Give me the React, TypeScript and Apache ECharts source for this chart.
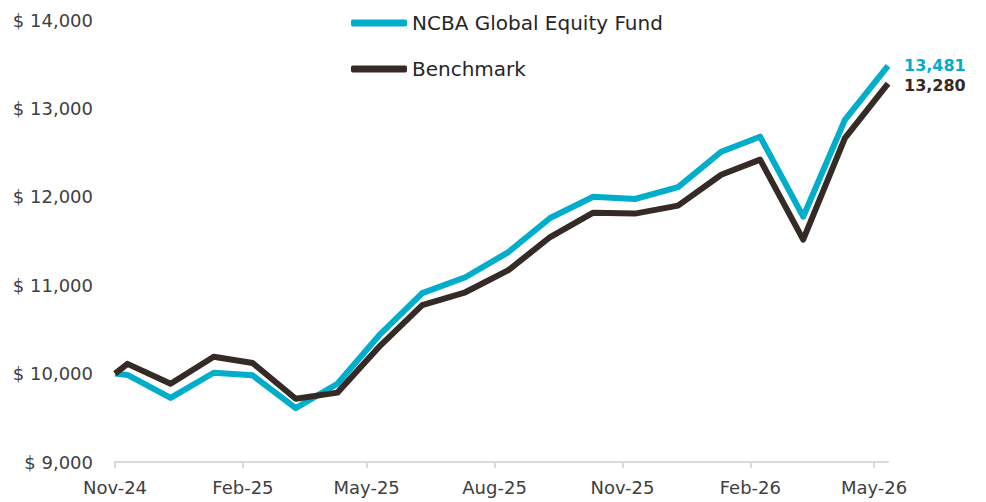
import React, { useEffect, useRef } from "react";
import * as echarts from "echarts";

const dates = [
  "2024-11-21", "2024-11-30", "2024-12-31", "2025-01-31", "2025-02-28",
  "2025-03-31", "2025-04-30", "2025-05-31", "2025-06-30", "2025-07-31",
  "2025-08-31", "2025-09-30", "2025-10-31", "2025-11-30", "2025-12-31",
  "2026-01-31", "2026-02-28", "2026-03-31", "2026-04-30", "2026-05-31",
];
const fundValues = [
  10000, 9985, 9725, 10010, 9980, 9610, 9885, 10450, 10910, 11090,
  11375, 11760, 12000, 11975, 12110, 12510, 12680, 11775, 12870, 13481,
];
const benchValues = [
  10000, 10110, 9885, 10190, 10120, 9715, 9785, 10320, 10775, 10920,
  11170, 11545, 11820, 11810, 11900, 12250, 12420, 11515, 12665, 13280,
];
const tickDates = [
  "2024-11-21", "2025-02-21", "2025-05-21", "2025-08-21",
  "2025-11-21", "2026-02-21", "2026-05-21",
];
const seriesNames = ["NCBA Global Equity Fund", "Benchmark"];
const monthNames = ["Jan", "Feb", "Mar", "Apr", "May", "Jun", "Jul", "Aug", "Sep", "Oct", "Nov", "Dec"];

const ts = (d: string) => {
  const [y, m, day] = d.split("-").map(Number);
  return Date.UTC(y, m - 1, day);
};

const FONT = "'DejaVu Sans', 'Open Sans', sans-serif";
const FUND_COLOR = "#00AECB";
const BENCH_COLOR = "#362A26";
const TEXT_COLOR = "#404040";

export default function App() {
  const ref = useRef<HTMLDivElement>(null);
  useEffect(() => {
    if (!ref.current) return;
    const chart = echarts.init(ref.current, null, { renderer: "svg" });
    const tickTs = tickDates.map(ts);
    const fmt = (v: number) => Number(v).toLocaleString("en-US");
    chart.setOption({
      animation: false,
      textStyle: { fontFamily: FONT },
      grid: { left: 115, right: 98, top: 20, bottom: 40, containLabel: false },
      legend: {
        orient: "vertical",
        left: 351,
        top: 13,
        padding: 0,
        itemWidth: 56,
        itemHeight: 7,
        itemGap: 26,
        icon: "roundRect",
        textStyle: { fontFamily: FONT, fontSize: 20, color: "#262626" },
        data: seriesNames,
      },
      xAxis: {
        type: "value",
        min: ts(dates[0]),
        max: ts(dates[dates.length - 1]),
        splitLine: { show: false },
        axisLine: { show: true, lineStyle: { color: "#D9D9D9", width: 2 } },
        axisTick: {
          show: true,
          length: 6,
          customValues: tickTs,
          lineStyle: { color: "#D9D9D9", width: 2 },
        },
        axisLabel: {
          customValues: tickTs,
          margin: 16,
          fontSize: 18,
          color: TEXT_COLOR,
          fontFamily: FONT,
          formatter: (v: number) => {
            const d = new Date(v);
            return monthNames[d.getUTCMonth()] + "-" + String(d.getUTCFullYear()).slice(2);
          },
        },
      },
      yAxis: {
        type: "value",
        min: 9000,
        max: 14000,
        interval: 1000,
        splitLine: { show: false },
        axisLine: { show: false },
        axisTick: { show: false },
        axisLabel: {
          margin: 22,
          fontSize: 18,
          color: TEXT_COLOR,
          fontFamily: FONT,
          formatter: (v: number) => "$ " + fmt(v),
        },
      },
      series: [
        {
          name: seriesNames[0],
          type: "line",
          data: dates.map((d, i) => [ts(d), fundValues[i]]),
          showSymbol: false,
          symbol: "none",
          itemStyle: { color: FUND_COLOR },
          lineStyle: { color: FUND_COLOR, width: 6, join: "round" },
          endLabel: {
            show: true,
            distance: 16,
            offset: [0, 0],
            color: FUND_COLOR,
            fontWeight: "bold",
            fontSize: 16,
            lineHeight: 16,
            fontFamily: FONT,
            formatter: (p: any) => fmt(p.value[1]),
          },
        },
        {
          name: seriesNames[1],
          type: "line",
          data: dates.map((d, i) => [ts(d), benchValues[i]]),
          showSymbol: false,
          symbol: "none",
          itemStyle: { color: BENCH_COLOR },
          lineStyle: { color: BENCH_COLOR, width: 6, join: "round" },
          endLabel: {
            show: true,
            distance: 16,
            offset: [0, 2],
            color: BENCH_COLOR,
            fontWeight: "bold",
            fontSize: 16,
            lineHeight: 16,
            fontFamily: FONT,
            formatter: (p: any) => fmt(p.value[1]),
          },
        },
      ],
    });
    return () => chart.dispose();
  }, []);
  return (
    <div
      ref={ref}
      style={{ position: "fixed", left: 0, top: 0, width: 986, height: 502, background: "#fff" }}
    />
  );
}
